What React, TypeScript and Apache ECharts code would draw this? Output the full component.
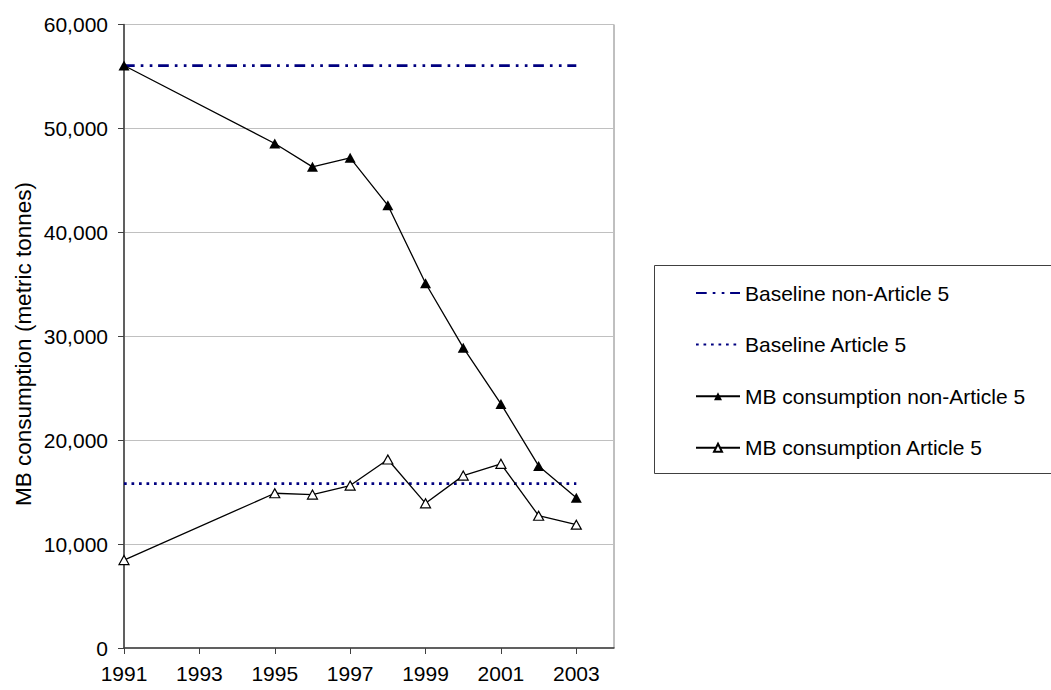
import React, { useEffect, useRef } from "react";
import * as echarts from "echarts";

const years = ["1991","1992","1993","1994","1995","1996","1997","1998","1999","2000","2001","2002","2003","2004"];
const dataYears = ["1991","1995","1996","1997","1998","1999","2000","2001","2002","2003"];
const mbNonArticle5 = [56050, 48550, 46300, 47170, 42600, 35100, 28900, 23490, 17520, 14470];
const mbArticle5 = [8460, 14890, 14760, 15630, 18140, 13920, 16590, 17720, 12730, 11870];
const baselineYears = ["1991", "2003"];
const baselineNonArticle5 = [56050, 56050];
const baselineArticle5 = [15820, 15820];
const yTicks = { min: 0, max: 60000, interval: 10000 };
const yTitle = "MB consumption (metric tonnes)";

const FONT = "'Liberation Sans', Arial, sans-serif";

export default function App() {
  const ref = useRef<HTMLDivElement>(null);
  useEffect(() => {
    document.body.style.margin = "0";
    const chart = echarts.init(ref.current!, null, { renderer: "svg" });
    const pair = (xs: string[], ys: number[]) => xs.map((x, i) => [x, ys[i]]);
    const hiddenSymbol = { opacity: 0, color: "rgba(0,0,0,0)", borderWidth: 0 };
    chart.setOption({
      animation: false,
      backgroundColor: "#fff",
      textStyle: { fontFamily: FONT, color: "#000" },
      grid: {
        left: 124, right: 437, top: 24.5, bottom: 42,
        show: true, borderColor: "#808080", borderWidth: 1,
      },
      xAxis: {
        type: "category",
        data: years,
        boundaryGap: false,
        axisLine: { show: true, lineStyle: { color: "#404040", width: 1.5 } },
        axisTick: { show: true, interval: 1, length: 6, lineStyle: { color: "#404040" } },
        axisLabel: { interval: 1, fontSize: 21, color: "#000", margin: 15, fontFamily: FONT },
        splitLine: { show: false },
      },
      yAxis: {
        type: "value",
        min: yTicks.min, max: yTicks.max, interval: yTicks.interval,
        axisLine: { show: true, lineStyle: { color: "#404040", width: 1.5 } },
        axisTick: { show: true, length: 6, lineStyle: { color: "#404040" } },
        axisLabel: {
          fontSize: 21, color: "#000", margin: 16, fontFamily: FONT,
          formatter: (v: number) => v.toLocaleString("en-US"),
        },
        splitLine: { show: true, lineStyle: { color: "#c0c0c0", width: 1 } },
      },
      legend: {
        orient: "vertical",
        left: 695, top: 282.5,
        padding: 0,
        itemWidth: 44, itemHeight: 10,
        itemGap: 30.6,
        textStyle: { fontSize: 21, color: "#000", fontFamily: FONT },
        data: [
          { name: "Baseline non-Article 5", itemStyle: hiddenSymbol },
          { name: "Baseline Article 5", itemStyle: hiddenSymbol },
          "MB consumption non-Article 5",
          "MB consumption Article 5",
        ],
      },
      graphic: [
        {
          type: "rect",
          shape: { x: 654.5, y: 265.5, width: 500, height: 208 },
          style: { fill: "none", stroke: "#404040", lineWidth: 1 },
          silent: true,
        },
        {
          type: "text",
          x: 23, y: 344,
          rotation: Math.PI / 2,
          style: {
            text: yTitle, fontSize: 22.5, fontFamily: FONT, fill: "#000",
            align: "center", verticalAlign: "middle",
          },
          silent: true,
        },
      ],
      series: [
        {
          name: "Baseline non-Article 5",
          type: "line",
          data: pair(baselineYears, baselineNonArticle5),
          symbol: "none",
          lineStyle: { color: "#000080", width: 2.8, type: [10.7, 6, 2.7, 6.3, 2.7, 5.7] },
          itemStyle: { color: "#000080" },
          z: 2,
        },
        {
          name: "Baseline Article 5",
          type: "line",
          data: pair(baselineYears, baselineArticle5),
          symbol: "none",
          lineStyle: { color: "#000080", width: 2.8, type: [2.7, 4.8] },
          itemStyle: { color: "#000080" },
          z: 2,
        },
        {
          name: "MB consumption non-Article 5",
          type: "line",
          data: pair(dataYears, mbNonArticle5),
          symbol: "triangle",
          symbolSize: [11, 10],
          lineStyle: { color: "#000", width: 1.3 },
          itemStyle: { color: "#000", borderColor: "#000", borderWidth: 0 },
          z: 3,
        },
        {
          name: "MB consumption Article 5",
          type: "line",
          data: pair(dataYears, mbArticle5),
          symbol: "triangle",
          symbolSize: [10, 9],
          lineStyle: { color: "#000", width: 1.3 },
          itemStyle: { color: "#fff", borderColor: "#000", borderWidth: 1.2 },
          z: 3,
        },
      ],
    });
    return () => chart.dispose();
  }, []);
  return (
    <div
      ref={ref}
      style={{ position: "absolute", left: 0, top: 0, width: 1051, height: 690 }}
    />
  );
}
